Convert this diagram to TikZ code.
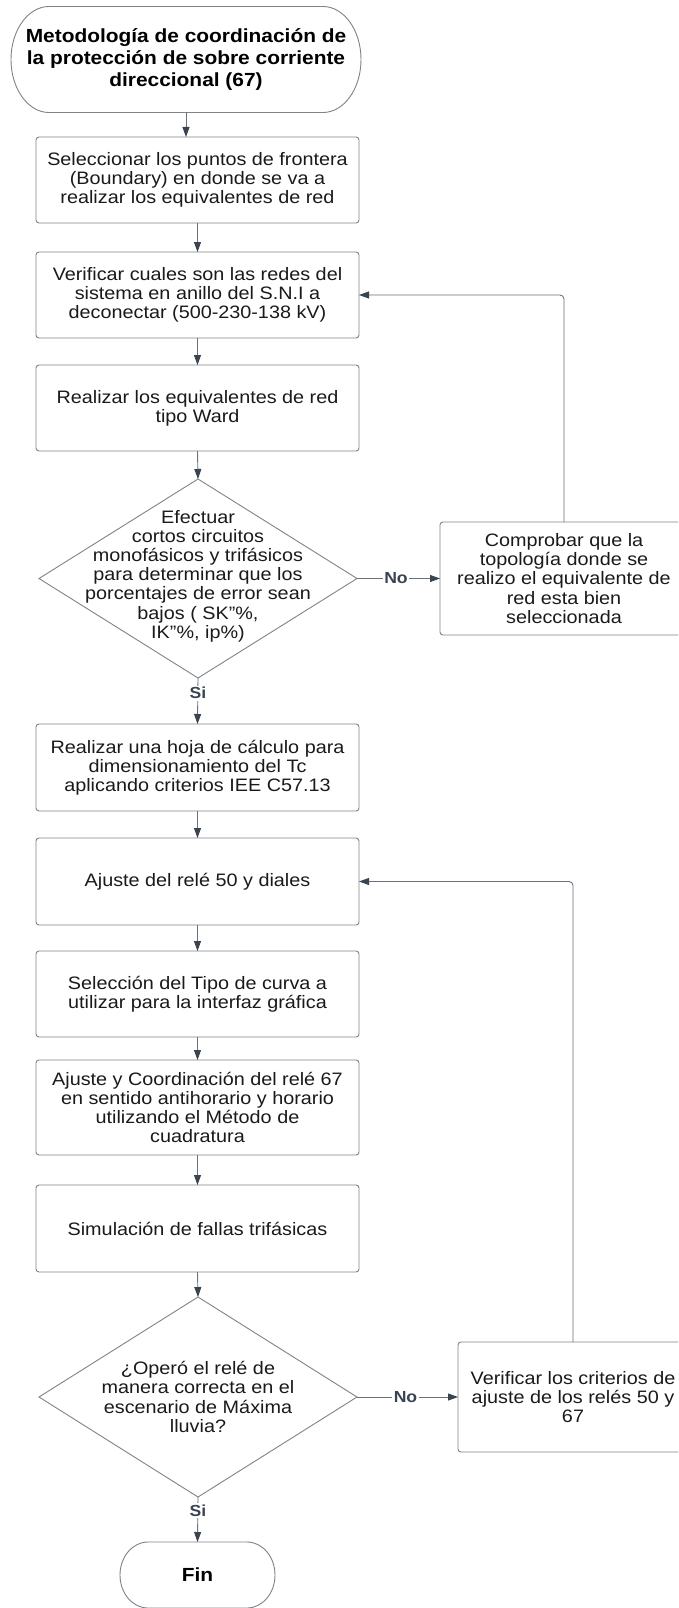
\documentclass[tikz,border=0pt]{standalone}
\usepackage{fontspec}
\setmainfont{Liberation Sans}[FakeStretch=1.10]
\usetikzlibrary{arrows.meta,shapes.geometric}
\definecolor{bordergray}{HTML}{7E838A}
\definecolor{linegray}{HTML}{6B727B}
\definecolor{headcol}{HTML}{3A4451}
\definecolor{textcol}{HTML}{1A1A1A}
\newcommand\bdfont{\fontsize{18}{19.2}\selectfont}
\newcommand\ttlfont{\fontsize{19}{22}\selectfont\bfseries}
\newcommand\lblfont{\fontsize{16}{18}\selectfont\bfseries}
\newcommand\termoutline[3]{%
  \draw[bord] ([xshift=#2pt]#1.north west) -- ([xshift=-#2pt]#1.north east)
    arc[start angle=90,end angle=-90,x radius=#2pt,y radius=#3pt]
    -- ([xshift=#2pt]#1.south west)
    arc[start angle=270,end angle=90,x radius=#2pt,y radius=#3pt] -- cycle;}
\begin{document}
\begin{tikzpicture}[x=1pt,y=1pt,
  bord/.style={draw=bordergray, line width=0.9pt},
  proc/.style={bord, rounded corners=3pt, minimum width=323pt, minimum height=86pt,
    align=center, inner sep=0pt, outer sep=0pt, font=\bdfont, text=textcol},
  side/.style={proc, minimum width=248pt, minimum height=113pt},
  dec/.style={bord, diamond, minimum width=318pt, minimum height=199pt, inner sep=0pt, outer sep=0pt},
  txt/.style={align=center, font=\bdfont, inner sep=0pt, text=textcol},
  term/.style={align=center, inner sep=0pt, outer sep=0pt, text=black},
  conn/.style={draw=linegray, line width=0.9pt, -{Triangle[length=10pt,width=7pt,color=headcol,fill=headcol]}},
  lbl/.style={font=\lblfont, fill=white, inner sep=1.5pt, text=headcol},
]
\clip (0,0) rectangle (678,-1608);
\fill[white] (0,0) rectangle (678,-1608);

% start terminal
\node[term, minimum width=350pt, minimum height=106pt, font=\ttlfont] (t1) at (186,-59.5)
  {Metodología de coordinación de\\la protección de sobre corriente\\direccional (67)};
\termoutline{t1}{38}{53}

\node[proc] (b1) at (197.5,-180) {Seleccionar los puntos de frontera\\(Boundary) en donde se va a\\realizar los equivalentes de red};
\node[proc] (b2) at (197.5,-295) {Verificar cuales son las redes del\\sistema en anillo del S.N.I a\\deconectar (500-230-138 kV)};
\node[proc] (b3) at (197.5,-408) {Realizar los equivalentes de red\\tipo Ward};
\node[dec] (d1) at (198,-578.5) {};
\node[txt] (d1t) at (198,-576) {Efectuar\\cortos circuitos\\monofásicos y trifásicos\\para determinar que los\\porcentajes de error sean\\bajos ( SK”\%,\\IK”\%, ip\%)};
\node[side] (c1) at (564,-578.5) {Comprobar que la\\topología donde se\\realizo el equivalente de\\red esta bien\\seleccionada};
\node[proc, minimum height=87pt] (b4) at (197.5,-767.5) {Realizar una hoja de cálculo para\\dimensionamiento del Tc\\aplicando criterios IEE C57.13};
\node[proc, minimum height=87pt] (b5) at (197.5,-881.5) {Ajuste del relé 50 y diales};
\node[proc] (b6) at (197.5,-994) {Selección del Tipo de curva a\\utilizar para la interfaz gráfica};
\node[proc, minimum height=95pt] (b7) at (197.5,-1107.5) {Ajuste y Coordinación del relé 67\\en sentido antihorario y horario\\utilizando el Método de\\cuadratura};
\node[proc, minimum height=87pt] (b8) at (197.5,-1228.5) {Simulación de fallas trifásicas};
\node[dec, minimum height=200pt] (d2) at (198,-1397) {};
\node[txt] (d2t) at (198,-1397) {¿Operó el relé de\\manera correcta en el\\escenario de Máxima\\lluvia?};
\node[side, minimum width=230pt, minimum height=110pt] (c2) at (573,-1397) {Verificar los criterios de\\ajuste de los relés 50 y\\67};
\node[term, minimum width=155pt, minimum height=66pt, font=\ttlfont] (fin) at (197.5,-1575) {Fin};
\termoutline{fin}{28}{33}

% connectors
\draw[conn] (t1.south) -- (t1.south |- b1.north);
\draw[conn] (b1.south) -- (b2.north);
\draw[conn] (b2.south) -- (b3.north);
\draw[conn] (b3.south) -- (d1.north);
\draw[conn] (d1.east) -- node[lbl, pos=0.47] {No} (c1.west);
\draw[conn, rounded corners=4pt] (c1.north) |- (b2.east);
\draw[conn] (d1.south) -- node[lbl, pos=0.33] {Si} (b4.north);
\draw[conn] (b4.south) -- (b5.north);
\draw[conn] (b5.south) -- (b6.north);
\draw[conn] (b6.south) -- (b7.north);
\draw[conn] (b7.south) -- (b8.north);
\draw[conn] (b8.south) -- (d2.north);
\draw[conn] (d2.east) -- node[lbl, pos=0.48] {No} (c2.west);
\draw[conn, rounded corners=4pt] (c2.north) |- (b5.east);
\draw[conn] (d2.south) -- node[lbl, pos=0.3] {Si} (fin.north);
\end{tikzpicture}
\end{document}
